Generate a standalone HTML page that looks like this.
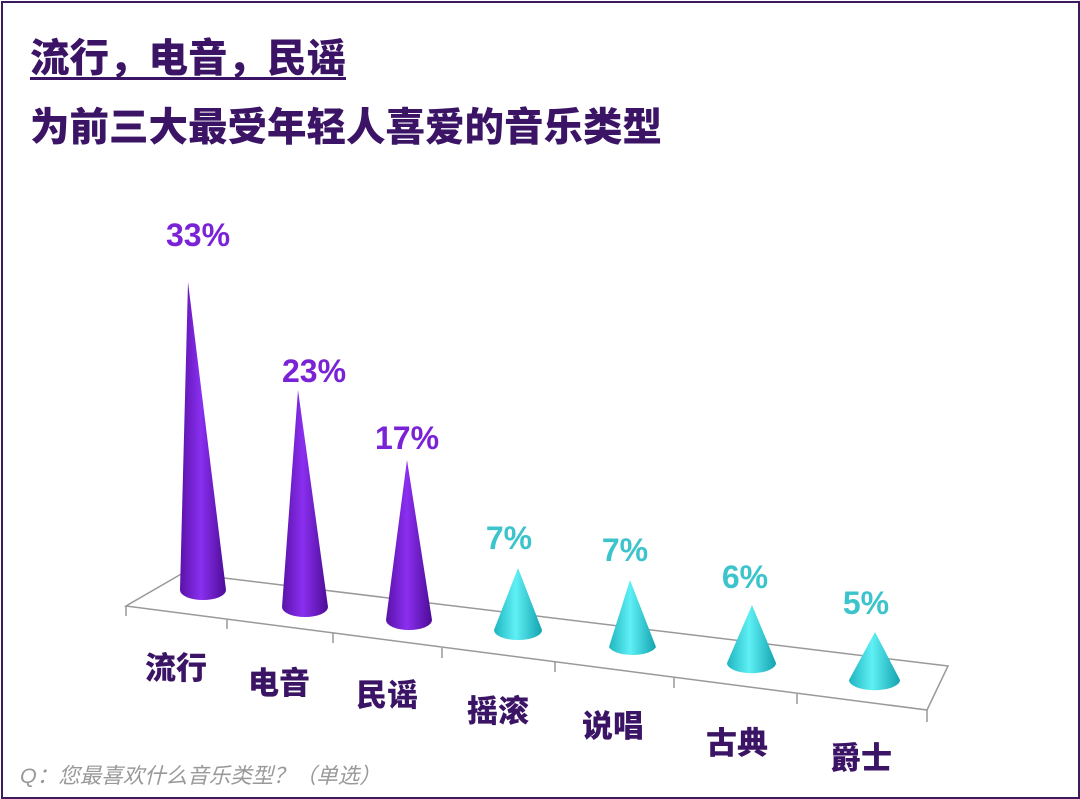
<!DOCTYPE html>
<html><head><meta charset="utf-8"><style>
html,body{margin:0;padding:0;background:#fff}
body{width:1080px;height:799px;position:relative;overflow:hidden;font-family:"Liberation Sans","Noto Sans CJK SC",sans-serif}
.frame{position:absolute;left:1px;top:1px;width:1075px;height:794px;border:2px solid #3d1a5e}
.t{position:absolute;font-weight:900;color:#3b1466;white-space:nowrap;line-height:1}
</style></head><body>
<div class="frame"></div>
<div class="t" style="left:30px;top:40px;font-size:39.5px;text-decoration:underline;text-underline-offset:5px;text-decoration-thickness:3px;">流行，电音，民谣</div>
<div class="t" style="left:30px;top:109px;font-size:39.5px;">为前三大最受年轻人喜爱的音乐类型</div>
<svg width="1080" height="799" style="position:absolute;left:0;top:0">
<defs>
<linearGradient id="p" x1="0" x2="1" y1="0" y2="0"><stop offset="0" stop-color="#5a12a8"/><stop offset="0.45" stop-color="#8a2ff0"/><stop offset="1" stop-color="#4d0c96"/></linearGradient>
<linearGradient id="c" x1="0" x2="1" y1="0" y2="0"><stop offset="0" stop-color="#1fb5c0"/><stop offset="0.45" stop-color="#5ff0f5"/><stop offset="1" stop-color="#14a3b0"/></linearGradient>
</defs>
<g stroke="#999" stroke-width="1.5" fill="none">
<polygon points="126,606 183,573 948,666 927,710"/>
<line x1="126" y1="606" x2="126" y2="616"/><line x1="227" y1="619" x2="227" y2="629"/><line x1="333" y1="633" x2="333" y2="643"/><line x1="442" y1="648" x2="442" y2="658"/><line x1="555" y1="662" x2="555" y2="672"/><line x1="674" y1="678" x2="674" y2="688"/><line x1="797" y1="694" x2="797" y2="704"/><line x1="927" y1="710" x2="927" y2="722"/>
</g>
<g>
<path d="M180,590 L188,282 L226,590 A23,10 0 0 1 180,590Z" fill="url(#p)"/>
<path d="M282,607 L298,390 L328,607 A23,10 0 0 1 282,607Z" fill="url(#p)"/>
<path d="M386,620 L407,460 L432,620 A23,10 0 0 1 386,620Z" fill="url(#p)"/>
<path d="M494,630 L518,568 L542,630 A24,10 0 0 1 494,630Z" fill="url(#c)"/>
<path d="M609,647 L630,580 L656,647 A24,10 0 0 1 609,647Z" fill="url(#c)"/>
<path d="M727,663 L752,605 L776,663 A24,10 0 0 1 727,663Z" fill="url(#c)"/>
<path d="M849,680 L875,632 L900,680 A25,10 0 0 1 849,680Z" fill="url(#c)"/>
</g>
<g font-family="Liberation Sans, sans-serif" font-weight="bold" font-size="32" text-anchor="middle">
<text x="198" y="246" fill="#7a22d6">33%</text>
<text x="314" y="382" fill="#7a22d6">23%</text>
<text x="407" y="449" fill="#7a22d6">17%</text>
<text x="509" y="549" fill="#3cc4cc">7%</text>
<text x="625" y="561" fill="#3cc4cc">7%</text>
<text x="745" y="588" fill="#3cc4cc">6%</text>
<text x="866" y="614" fill="#3cc4cc">5%</text>
</g>
<g font-family="Liberation Sans, Noto Sans CJK SC, sans-serif" font-weight="900" font-size="31" fill="#3b1466" text-anchor="middle">
<text x="176" y="679">流行</text>
<text x="279" y="694">电音</text>
<text x="387" y="706">民谣</text>
<text x="498" y="722">摇滚</text>
<text x="613" y="737">说唱</text>
<text x="737" y="754">古典</text>
<text x="861" y="769">爵士</text>
</g>
<text x="20" y="783" font-family="Liberation Sans, Noto Sans CJK SC, sans-serif" font-style="italic" font-size="21.5" fill="#999">Q：您最喜欢什么音乐类型？（单选）</text>
</svg>
</body></html>
